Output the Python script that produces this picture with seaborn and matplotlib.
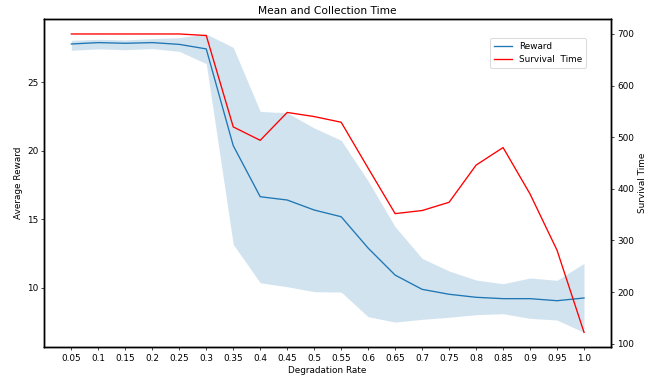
import matplotlib
matplotlib.use("Agg")
import matplotlib.pyplot as plt
import seaborn as sns
import pandas as pd

# Degradation rates evaluated
rates = [0.05, 0.1, 0.15, 0.2, 0.25, 0.3, 0.35, 0.4, 0.45, 0.5,
         0.55, 0.6, 0.65, 0.7, 0.75, 0.8, 0.85, 0.9, 0.95, 1.0]
rate_labels = ["0.05", "0.1", "0.15", "0.2", "0.25", "0.3", "0.35", "0.4", "0.45", "0.5",
               "0.55", "0.6", "0.65", "0.7", "0.75", "0.8", "0.85", "0.9", "0.95", "1.0"]

# Mean reward and its spread
reward_mean = [27.8, 27.9, 27.85, 27.9, 27.77, 27.44, 20.38, 16.65, 16.41, 15.68,
               15.19, 12.9, 10.93, 9.89, 9.53, 9.31, 9.21, 9.21, 9.06, 9.26]
reward_upper = [28.07, 28.14, 28.1, 28.19, 28.26, 28.53, 27.55, 22.88, 22.77, 21.67,
                20.77, 17.8, 14.46, 12.15, 11.23, 10.57, 10.30, 10.72, 10.55, 11.79]
reward_lower = [27.34, 27.44, 27.38, 27.46, 27.26, 26.36, 13.17, 10.37, 10.08, 9.72,
                9.69, 7.89, 7.5, 7.70, 7.85, 8.04, 8.11, 7.77, 7.65, 6.75]

# Mean survival time
survival_time = [700, 700, 700, 700, 700, 697, 520, 494, 548, 540,
                 529, 440, 352, 358, 374, 446, 480, 390, 281, 122]

df = pd.DataFrame({"rate": rates, "reward": reward_mean, "survival": survival_time})

plt.rcParams["axes.linewidth"] = 1.6

dpi = 64
fig, ax = plt.subplots(figsize=(657 / dpi, 381 / dpi), dpi=dpi)
fig.subplots_adjust(left=0.0675, right=0.930, top=0.950, bottom=0.0885)

sns.lineplot(data=df, x="rate", y="reward", ax=ax, color="tab:blue", label="Reward", legend=False)
ax.fill_between(rates, reward_lower, reward_upper, color="tab:blue", alpha=0.2, linewidth=0)
ax.set_xlabel("Degradation Rate")
ax.set_ylabel("Average Reward")
ax.set_xticks(rates)
ax.set_xticklabels(rate_labels)
ax.set_xlim(0, 1.05)
ax.set_title("Mean and Collection Time")

ax2 = ax.twinx()
sns.lineplot(data=df, x="rate", y="survival", ax=ax2, color="red", label="Survival  Time", legend=False)
ax2.set_ylabel("Survival Time")

h1, l1 = ax.get_legend_handles_labels()
h2, l2 = ax2.get_legend_handles_labels()
ax2.legend(h1 + h2, l1 + l2, loc="upper right", bbox_to_anchor=(0.963, 0.955))

fig.savefig("out.png", dpi=dpi)
